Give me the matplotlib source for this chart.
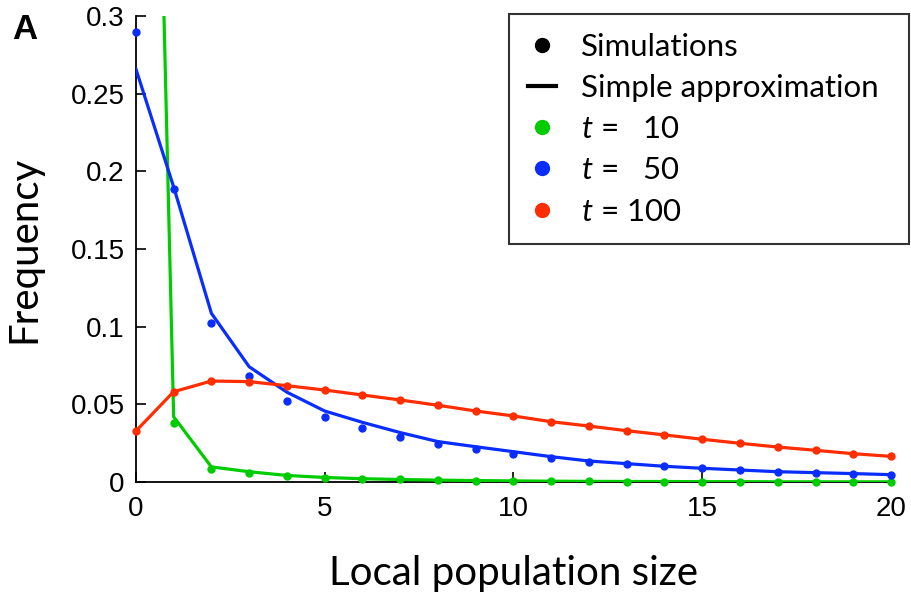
import numpy as np
import matplotlib
matplotlib.use("Agg")
import matplotlib.pyplot as plt
from matplotlib.lines import Line2D

plt.rcParams['mathtext.fontset'] = 'custom'
plt.rcParams['mathtext.it'] = 'Lato:italic'
plt.rcParams['mathtext.rm'] = 'Lato'

# local population size
sizes = np.arange(0, 21)

# simple approximation (lines)
approx_t10 = [1.05, 0.042, 0.0097, 0.0066, 0.0042, 0.0029, 0.0021, 0.0016, 0.0012,
              0.0009, 0.0007, 0.0005, 0.0004, 0.0003, 0.0003, 0.0002, 0.0002,
              0.0001, 0.0001, 0.0001, 0.0001]
approx_t50 = [0.266, 0.19, 0.1086, 0.0742, 0.0578, 0.0457, 0.0384, 0.0318, 0.026,
              0.0227, 0.0195, 0.0163, 0.0135, 0.0118, 0.0101, 0.0088, 0.0077,
              0.0066, 0.006, 0.0054, 0.0047]
approx_t100 = [0.0328, 0.0581, 0.065, 0.0646, 0.062, 0.0592, 0.056, 0.0528, 0.0494,
               0.0457, 0.0425, 0.0388, 0.036, 0.033, 0.0303, 0.0275, 0.0249,
               0.0225, 0.0204, 0.0182, 0.0165]

# simulations (dots)
sim_t10 = [None, 0.038, 0.0084, 0.0056, 0.0039, 0.0028, 0.0021, 0.0016, 0.0012,
           0.0009, 0.0007, 0.0005, 0.0004, 0.0003, 0.0003, 0.0002, 0.0002,
           0.0001, 0.0001, 0.0001, 0.0001]
sim_t50 = [0.29, 0.1885, 0.1026, 0.0683, 0.0522, 0.042, 0.035, 0.0292, 0.0245,
           0.0212, 0.0182, 0.0157, 0.0131, 0.0116, 0.0101, 0.0088, 0.0077,
           0.0066, 0.006, 0.0053, 0.0047]
sim_t100 = [0.0328, 0.0581, 0.065, 0.0644, 0.062, 0.0592, 0.056, 0.0528, 0.0494,
            0.0457, 0.0425, 0.0388, 0.036, 0.033, 0.0303, 0.0275, 0.0249,
            0.0225, 0.0204, 0.0182, 0.0165]

green = '#00cc00'
blue = '#0a2dff'
red = '#ff2d00'

fig = plt.figure(figsize=(9.12, 5.94), dpi=100)
ax = fig.add_axes([0.149, 0.1886, 0.828, 0.7844])

series = [(approx_t10, sim_t10, green), (approx_t50, sim_t50, blue), (approx_t100, sim_t100, red)]
for approx, sim, c in series:
    ax.plot(sizes, approx, color=c, lw=2.3, clip_on=True, zorder=3)
    sim_arr = np.array([np.nan if v is None else v for v in sim], dtype=float)
    ax.plot(sizes, sim_arr, 'o', color=c, ms=5, clip_on=False, zorder=4)

ax.set_xlim(0, 20)
ax.set_ylim(0, 0.3)
ax.set_xticks([0, 5, 10, 15, 20])
ax.set_yticks([0, 0.05, 0.1, 0.15, 0.2, 0.25, 0.3])
ax.set_yticklabels(['0', '0.05', '0.1', '0.15', '0.2', '0.25', '0.3'])
ax.spines['top'].set_visible(False)
ax.spines['right'].set_visible(False)
ax.tick_params(direction='in', length=7, width=1.2, labelsize=20,
               labelfontfamily='Liberation Sans', pad=8)
ax.tick_params(axis='x', pad=10)
for s in ['left', 'bottom']:
    ax.spines[s].set_linewidth(1.3)

ax.set_xlabel('Local population size', fontsize=29, family='Lato', labelpad=24)
ax.set_ylabel('Frequency', fontsize=29, family='Lato', labelpad=20)

fig.text(0.013, 0.935, 'A', fontsize=25, fontweight='bold', family='Liberation Sans')

handles = [
    Line2D([], [], marker='o', ls='none', color='black', ms=10),
    Line2D([], [], color='black', lw=3),
    Line2D([], [], marker='o', ls='none', color=green, ms=10),
    Line2D([], [], marker='o', ls='none', color=blue, ms=10),
    Line2D([], [], marker='o', ls='none', color=red, ms=10),
]
labels = ['Simulations', 'Simple approximation',
          r'$t$ =   10', r'$t$ =   50', r'$t$ = 100']
leg = fig.legend(handles, labels, loc='upper left',
                 bbox_to_anchor=(0.558, 0.594, 0.439, 0.382), mode='expand',
                 prop={'family': 'Lato', 'size': 22.5}, frameon=True, fancybox=False,
                 edgecolor='black', handlelength=0.9, handletextpad=0.8,
                 labelspacing=0.42, borderpad=0.6, borderaxespad=0)
leg.get_frame().set_linewidth(1.5)

fig.savefig('out.png', dpi=100)
